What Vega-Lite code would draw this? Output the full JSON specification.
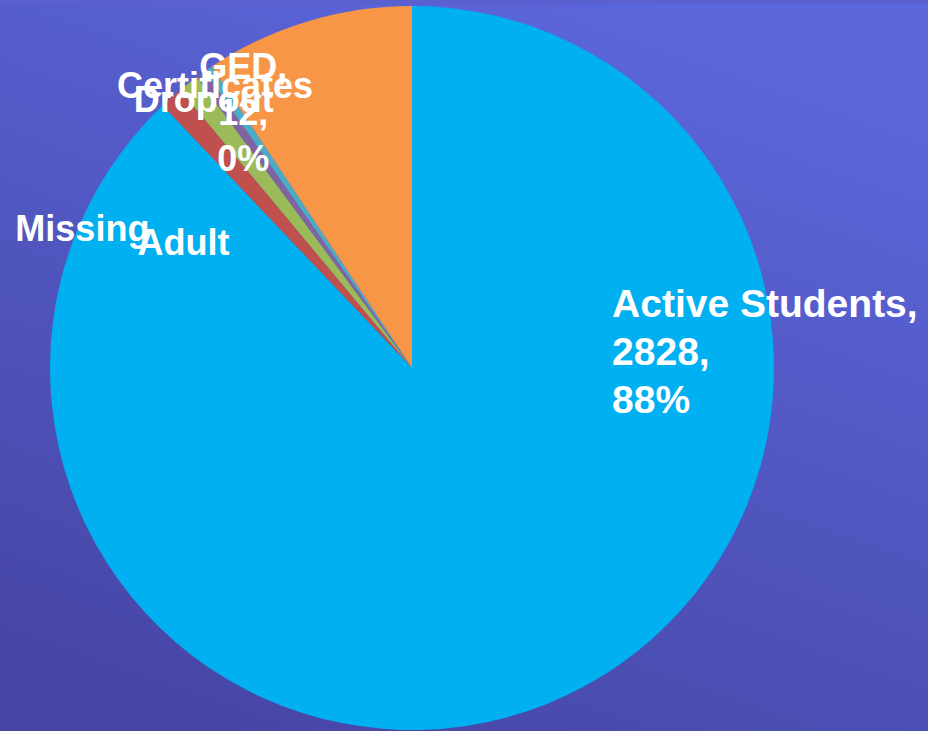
{
  "$schema": "https://vega.github.io/schema/vega-lite/v6.json",
  "width": 1032,
  "height": 726,
  "autosize": {"type": "none"},
  "padding": {"left": -104, "top": 5, "right": 0, "bottom": 0},
  "background": "#5a60d0",
  "view": {
    "stroke": null,
    "fill": {
      "gradient": "linear",
      "x1": 0.75, "y1": 0, "x2": 0.25, "y2": 1,
      "stops": [
        {"offset": 0, "color": "#5c67dc"},
        {"offset": 1, "color": "#4545a3"}
      ]
    }
  },
  "data": {
    "values": [
      {"order": 1, "name": "Active Students", "count": 2828, "label": "Active Students,\n2828,\n88%"},
      {"order": 2, "name": "Adult", "count": 33, "label": "Adult"},
      {"order": 3, "name": "Dropout", "count": 30, "label": "Dropout"},
      {"order": 4, "name": "Certificates", "count": 14, "label": "Certificates"},
      {"order": 5, "name": "GED", "count": 12, "label": "GED,\n12,\n0%"},
      {"order": 6, "name": "Missing", "count": 300, "label": "Missing"}
    ]
  },
  "encoding": {
    "theta": {"field": "count", "type": "quantitative", "stack": true},
    "order": {"field": "order", "type": "quantitative"}
  },
  "layer": [
    {
      "mark": {"type": "arc", "outerRadius": 362},
      "encoding": {
        "color": {
          "field": "name", "type": "nominal", "legend": null,
          "scale": {
            "domain": ["Active Students", "Adult", "Dropout", "Certificates", "GED", "Missing"],
            "range": ["#00b0f0", "#c0504d", "#9bbb59", "#8064a2", "#4bacc6", "#f79646"]
          }
        }
      }
    },
    {
      "mark": {"type": "text", "radius": 100, "dx": 163, "dy": -156, "align": "left", "baseline": "middle", "lineBreak": "\n", "lineHeight": 48, "font": "Liberation Sans", "fontWeight": "bold", "fontSize": 39, "fill": "white"},
      "encoding": {"text": {"condition": {"test": "datum.name === 'Active Students'", "field": "label"}, "value": ""}}
    },
    {
      "mark": {"type": "text", "radius": 300, "dx": -243, "dy": 149, "align": "center", "baseline": "middle", "font": "Liberation Sans", "fontWeight": "bold", "fontSize": 36, "fill": "white"},
      "encoding": {"text": {"condition": {"test": "datum.name === 'Missing'", "field": "label"}, "value": ""}}
    },
    {
      "mark": {"type": "text", "radius": 300, "dx": -29, "dy": 100, "align": "center", "baseline": "middle", "font": "Liberation Sans", "fontWeight": "bold", "fontSize": 36, "fill": "white"},
      "encoding": {"text": {"condition": {"test": "datum.name === 'Adult'", "field": "label"}, "value": ""}}
    },
    {
      "mark": {"type": "text", "radius": 300, "dx": -22, "dy": -37, "align": "center", "baseline": "middle", "font": "Liberation Sans", "fontWeight": "bold", "fontSize": 36, "fill": "white"},
      "encoding": {"text": {"condition": {"test": "datum.name === 'Certificates'", "field": "label"}, "value": ""}}
    },
    {
      "mark": {"type": "text", "radius": 300, "dx": -23, "dy": -31, "align": "center", "baseline": "middle", "font": "Liberation Sans", "fontWeight": "bold", "fontSize": 36, "fill": "white"},
      "encoding": {"text": {"condition": {"test": "datum.name === 'Dropout'", "field": "label"}, "value": ""}}
    },
    {
      "mark": {"type": "text", "radius": 300, "dx": 0, "dy": -52, "align": "center", "baseline": "middle", "lineBreak": "\n", "lineHeight": 46, "font": "Liberation Sans", "fontWeight": "bold", "fontSize": 36, "fill": "white"},
      "encoding": {"text": {"condition": {"test": "datum.name === 'GED'", "field": "label"}, "value": ""}}
    }
  ]
}
